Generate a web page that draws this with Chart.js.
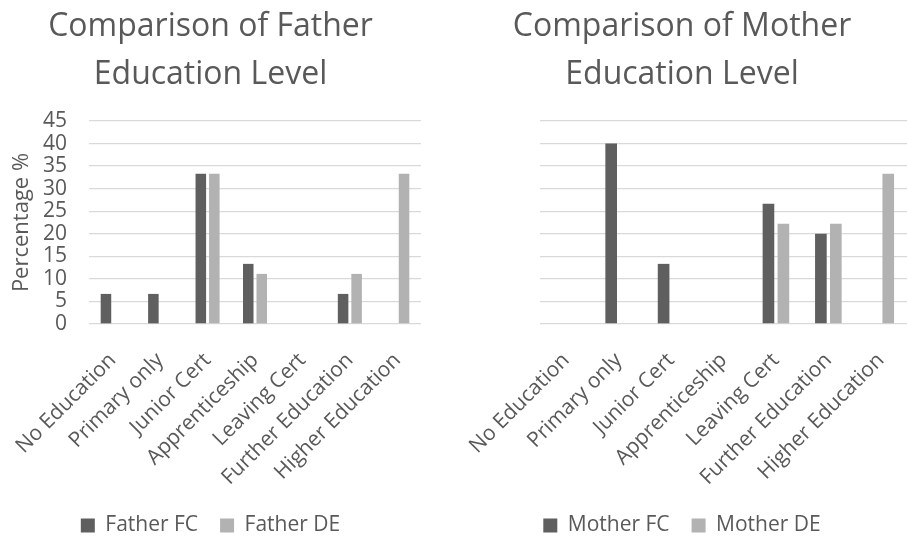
<!DOCTYPE html>
<html>
<head>
<meta charset="utf-8">
<script src="https://cdn.jsdelivr.net/npm/chart.js@4"></script>
<style>
  body { margin: 0; background: #fff; }
  #wrap { position: relative; width: 907px; height: 537px; }
  .box { position: absolute; top: 0; height: 537px; }
</style>
</head>
<body>
<div id="wrap">
  <div class="box" style="left:0;width:435px"><canvas id="chartFather"></canvas></div>
  <div class="box" style="left:450px;width:457px"><canvas id="chartMother"></canvas></div>
</div>
<script>
var categories = ['No Education', 'Primary only', 'Junior Cert', 'Apprenticeship', 'Leaving Cert', 'Further Education', 'Higher Education'];
var fatherFC = [6.67, 6.67, 33.33, 13.33, 0, 6.67, 0];
var fatherDE = [0, 0, 33.33, 11.11, 0, 11.11, 33.33];
var motherFC = [0, 40, 13.33, 0, 26.67, 20, 0];
var motherDE = [0, 0, 0, 0, 22.22, 22.22, 33.33];
var yTicks = [0, 5, 10, 15, 20, 25, 30, 35, 40, 45];

var darkColor = '#5f5f5f';
var lightColor = '#b2b2b2';
var textColor = '#595959';
var fontFamily = "'Open Sans', 'DejaVu Sans', sans-serif";

function makeChart(id, title, labelA, dataA, labelB, dataB, showY, pad) {
	var ctx = document.getElementById(id).getContext('2d');
	ctx.canvas.width = showY ? 435 : 457;
	ctx.canvas.height = 537;

	function bars(label, data, color) {
		return {
			label: label,
			data: data,
			backgroundColor: color,
			borderWidth: 0,
			categoryPercentage: 0.57,
			barPercentage: 0.78
		}
	};

	return new Chart(ctx, {
		type: 'bar',
		data: {
			labels: categories,
			datasets: [
				bars(labelA, dataA, darkColor),
				bars(labelB, dataB, lightColor)
			]
		},
		options: {
			responsive: false,
			animation: false,
			layout: {
				padding: { left: pad.left, right: pad.right, top: 0, bottom: -9 }
			},
			scales: {
				x: {
					grid: { display: false, drawTicks: false },
					border: { display: false },
					ticks: {
						color: textColor,
						font: { family: fontFamily, size: 21 },
						maxRotation: 45,
						minRotation: 45,
						autoSkip: false,
						padding: 24
					},
					afterFit: function (scale) {
						scale.height = 169;
						// keep rotated labels from pushing the plot area
						scale.paddingLeft = 0;
						scale.paddingRight = 0;
					}
				},
				y: {
					min: 0,
					max: 45,
					afterBuildTicks: function (scale) {
						scale.ticks = yTicks.map(v => ({ value: v }));
					},
					grid: { color: '#d9d9d9', lineWidth: 1.3, drawTicks: false },
					border: { display: false },
					ticks: {
						display: showY,
						autoSkip: false,
						color: textColor,
						font: { family: fontFamily, size: 21 },
						padding: 22
					},
					title: {
						display: showY,
						text: 'Percentage %',
						color: textColor,
						font: { family: fontFamily, size: 22 },
						padding: { top: 9, bottom: 0 }
					},
					afterFit: function (scale) {
						scale.width = pad.axis;
						scale.paddingTop = 0;
						scale.paddingBottom = 0;
					}
				}
			},
			plugins: {
				title: {
					display: true,
					text: title,
					color: textColor,
					font: { family: fontFamily, size: 32, weight: 'normal', lineHeight: 1.5 },
					padding: { top: 3, bottom: 22 }
				},
				legend: {
					position: 'bottom',
					labels: {
						color: textColor,
						font: { family: fontFamily, size: 21 },
						boxWidth: 14,
						boxHeight: 14,
						padding: 22
					}
				},
				tooltip: { enabled: false }
			}
		}
	});
};

var chart = makeChart('chartFather', ['Comparison of Father', 'Education Level'], 'Father FC', fatherFC, 'Father DE', fatherDE, true, { left: 0, right: 14, axis: 89 });
var chart2 = makeChart('chartMother', ['Comparison of Mother', 'Education Level'], 'Mother FC', motherFC, 'Mother DE', motherDE, false, { left: 7, right: 0, axis: 83 });
</script>
</body>
</html>
